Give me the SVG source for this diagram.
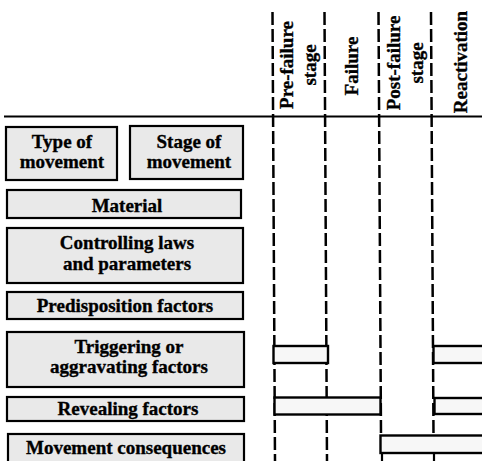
<svg xmlns="http://www.w3.org/2000/svg" width="482" height="461" viewBox="0 0 482 461">
<style>
.box{fill:#e9e9e9;stroke:#000;stroke-width:2.2}
.bar{fill:#f7f7f7;stroke:#000;stroke-width:2.4}
.t{font-family:"Liberation Serif","Times New Roman",serif;font-weight:bold;font-size:19px;fill:#000;stroke:#000;stroke-width:0.35;text-anchor:middle}
.dash{stroke:#000;stroke-width:2.5;stroke-dasharray:13 4;fill:none}
.ln{stroke:#000;stroke-width:2.2;fill:none}
</style>
<rect width="482" height="461" fill="#fff"/>
<g id="connectors">
<line class="ln" x1="4" y1="116.5" x2="482" y2="116.5"/>
<line class="dash" x1="272.5" y1="12" x2="275" y2="461"/>
<line class="dash" x1="324.5" y1="12" x2="327" y2="461"/>
<line class="dash" x1="378.5" y1="12" x2="381" y2="435"/>
<line class="dash" x1="431" y1="12" x2="433.5" y2="435"/>
<line class="ln" x1="382" y1="453" x2="382" y2="461"/>
<line class="ln" x1="434" y1="453" x2="434" y2="461"/>
</g>
<g id="header">
<text class="t" transform="translate(293,65) rotate(-90)">Pre-failure</text>
<text class="t" transform="translate(315.5,65) rotate(-90)">stage</text>
<text class="t" transform="translate(358,66) rotate(-90)">Failure</text>
<text class="t" transform="translate(400,63) rotate(-90)">Post-failure</text>
<text class="t" transform="translate(422.5,63) rotate(-90)">stage</text>
<text class="t" transform="translate(467,62) rotate(-90)">Reactivation</text>
</g>
<g id="type-of-movement">
<rect class="box" x="6" y="127" width="111" height="53"/>
<text class="t" x="62" y="148">Type of</text>
<text class="t" x="62" y="168">movement</text>
</g>
<g id="stage-of-movement">
<rect class="box" x="130" y="126" width="113" height="53"/>
<text class="t" x="189" y="148">Stage of</text>
<text class="t" x="189" y="168">movement</text>
</g>
<g id="material">
<rect class="box" x="7" y="190" width="234" height="28"/>
<text class="t" x="127" y="212">Material</text>
</g>
<g id="controlling">
<rect class="box" x="7" y="228" width="236" height="55"/>
<text class="t" x="127" y="249">Controlling laws</text>
<text class="t" x="127" y="270">and parameters</text>
</g>
<g id="predisposition">
<rect class="box" x="7" y="292" width="236" height="27"/>
<text class="t" x="125" y="312">Predisposition factors</text>
</g>
<g id="triggering">
<rect class="box" x="7" y="332" width="237" height="55"/>
<text class="t" x="129" y="353">Triggering or</text>
<text class="t" x="129" y="373">aggravating factors</text>
</g>
<g id="revealing">
<rect class="box" x="7" y="397" width="237" height="24"/>
<text class="t" x="128" y="415">Revealing factors</text>
</g>
<g id="consequences">
<rect class="box" x="8" y="434" width="236" height="32"/>
<text class="t" x="126" y="454">Movement consequences</text>
</g>
<g id="bars">
<rect class="bar" x="273.5" y="346" width="54.5" height="17"/>
<rect class="bar" x="433.5" y="346" width="52" height="17"/>
<rect class="bar" x="274.5" y="397.5" width="106" height="17"/>
<rect class="bar" x="434.5" y="398" width="52" height="16"/>
<rect class="bar" x="380.5" y="435.5" width="106" height="17.5"/>
</g>
</svg>
